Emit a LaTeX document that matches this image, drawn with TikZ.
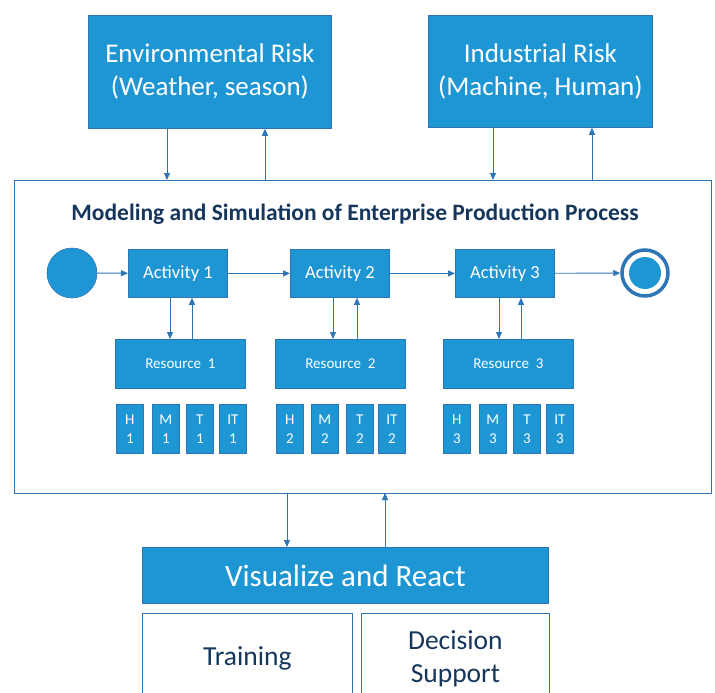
\documentclass[tikz,border=0pt]{standalone}
\usepackage{fontspec}
\setmainfont{Carlito}
\usetikzlibrary{arrows.meta}
\definecolor{bfill}{RGB}{31,150,212}
\definecolor{bline}{RGB}{46,117,182}
\definecolor{navy}{RGB}{22,54,92}
\tikzset{
  bluebox/.style={draw=bline, line width=0.8pt, fill=bfill, text=white, align=center, inner sep=0pt, anchor=north west},
  whitebox/.style={draw=bline, line width=0.8pt, fill=white, text=navy, align=center, inner sep=0pt, anchor=north west},
  smallbox/.style={bluebox, minimum width=27pt, minimum height=49pt, font=\fontsize{15}{19}\selectfont},
  conn/.style={draw=bline, line width=0.9pt, -{Triangle[length=7pt,width=6pt]}},
}
\begin{document}
\begin{tikzpicture}[x=1pt,y=-1pt]
\useasboundingbox (0,0) rectangle (715,693);
% top risk boxes
\node[bluebox, minimum width=243pt, minimum height=113pt, font=\fontsize{27}{33}\selectfont] (env) at (88,15) {Environmental Risk\\(Weather, season)};
\node[bluebox, minimum width=224pt, minimum height=112pt, font=\fontsize{27}{33}\selectfont] (ind) at (428,15) {Industrial Risk\\(Machine, Human)};
% main frame
\node[draw=bline, line width=0.8pt, minimum width=697pt, minimum height=313pt, inner sep=0pt, anchor=north west] (frame) at (14,180) {};
\node[text=navy, font=\fontsize{23.5}{28}\selectfont\bfseries] (title) at (355,214) {Modeling and Simulation of Enterprise Production Process};
% arrows top
\coordinate (e1) at (167,180); \coordinate (e2) at (265,180);
\coordinate (i1) at (493,180); \coordinate (i2) at (592,180);
\draw[conn] (env.south -| e1) -- (e1);
\draw[conn] (e2) -- (env.south -| e2);
\draw[conn] (ind.south -| i1) -- (i1);
\draw[conn] (i2) -- (ind.south -| i2);
% process
\node[circle, fill=bfill, draw=bline, line width=0.6pt, minimum size=50pt, inner sep=0pt] (start) at (72,273) {};
\node[circle, draw=bline, fill=white, line width=3.5pt, minimum size=46pt, inner sep=0pt] (stop) at (645,273) {};
\node[circle, fill=bfill, minimum size=32pt, inner sep=0pt] (stopin) at (645,273) {};
\foreach \n/\x in {1/128,2/290,3/455}{
  \node[bluebox, minimum width=99pt, minimum height=48pt, font=\fontsize{18.5}{22}\selectfont] (a\n) at (\x,249) {Activity \n};
}
\foreach \n/\x in {1/115,2/275,3/443}{
  \node[bluebox, minimum width=130pt, minimum height=49pt, font=\fontsize{15}{18}\selectfont] (r\n) at (\x,339) {Resource~~\n};
}
\draw[conn] (start) -- (a1);
\draw[conn] (a1) -- (a2);
\draw[conn] (a2) -- (a3);
\draw[conn] (a3) -- (stop);
\foreach \n/\d/\u in {1/170/192,2/333/357,3/499/521}{
  \draw[conn] (a\n.south -| \d,0) -- (r\n.north -| \d,0);
  \draw[conn] (r\n.north -| \u,0) -- (a\n.south -| \u,0);
}
% small boxes
\foreach \n/\xa/\xb/\xc/\xd in {1/116/152/186/219, 2/276/311/346/378, 3/443/479/513/546}{
  \node[smallbox] (h\n) at (\xa,404) {H\\\n};
  \node[smallbox] (m\n) at (\xb,404) {M\\\n};
  \node[smallbox] (t\n) at (\xc,404) {T\\\n};
  \node[smallbox] (it\n) at (\xd,404) {IT\\\n};
}
% bottom
\node[bluebox, minimum width=406pt, minimum height=56pt, font=\fontsize{31}{36}\selectfont] (vis) at (142,547) {Visualize and React};
\coordinate (b1) at (287,493); \coordinate (b2) at (385,493);
\draw[conn] (b1) -- (vis.north -| b1);
\draw[conn] (vis.north -| b2) -- (b2);
\node[whitebox, minimum width=210pt, minimum height=90pt, font=\fontsize{27.5}{33}\selectfont] (train) at (142,613) {Training};
\node[whitebox, minimum width=188pt, minimum height=90pt, font=\fontsize{27.5}{33}\selectfont] (dec) at (361,613) {Decision\\Support};
\end{tikzpicture}
\end{document}
